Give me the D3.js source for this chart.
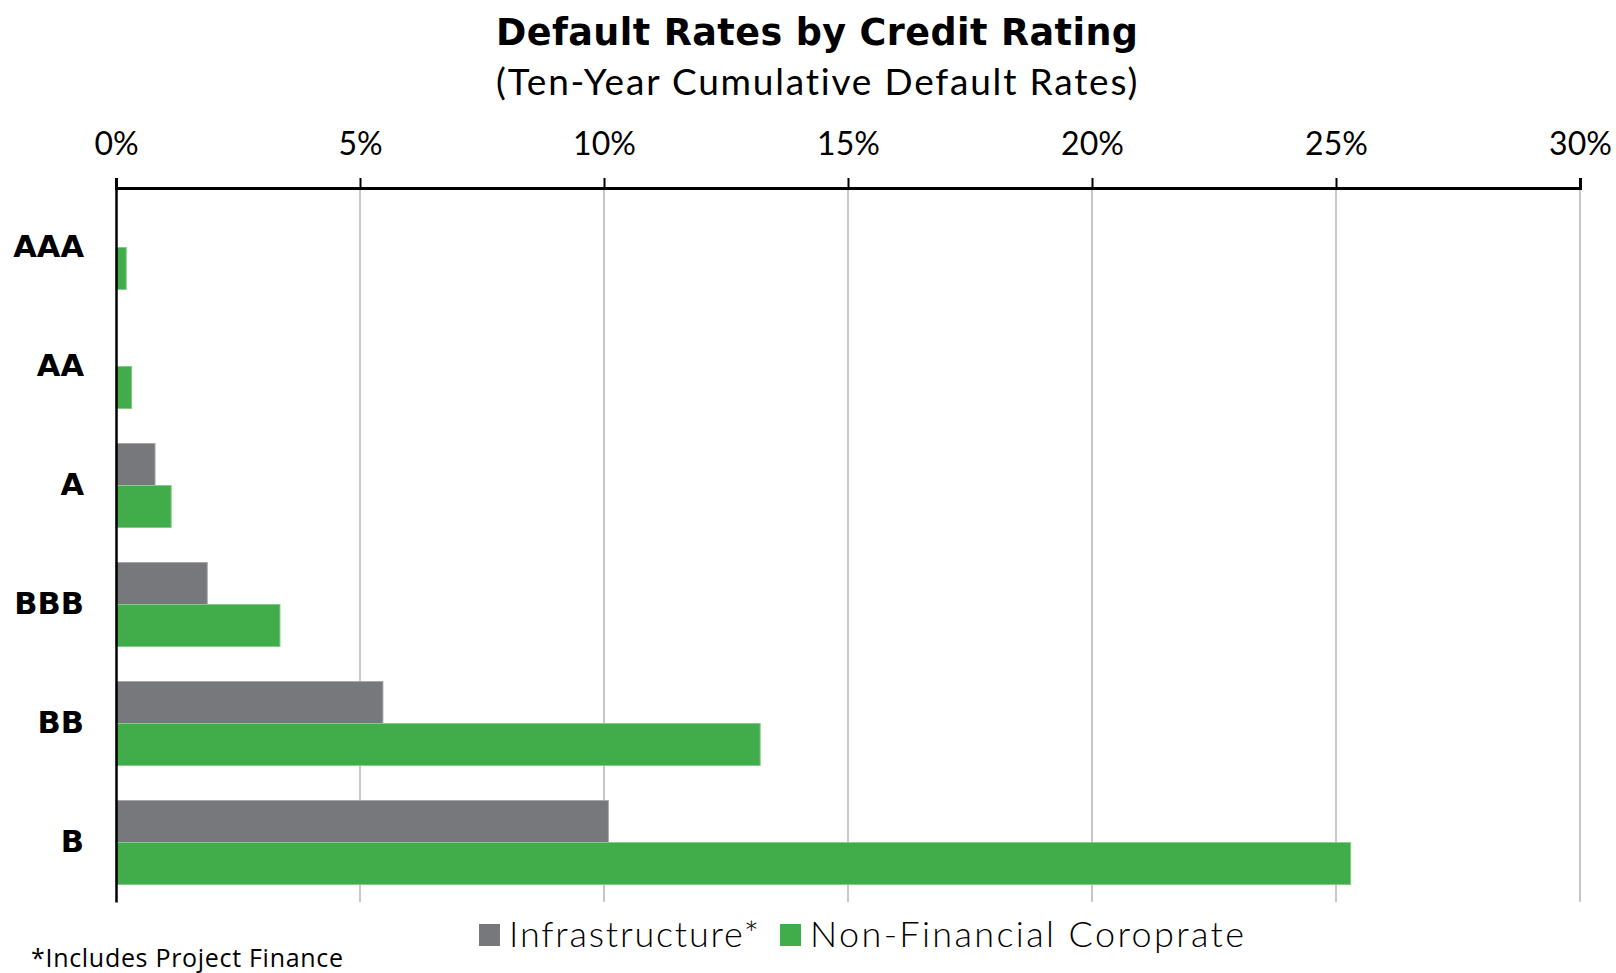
<!DOCTYPE html>
<html>
<head>
<meta charset="utf-8">
<script src="https://cdn.jsdelivr.net/npm/d3@7/dist/d3.min.js"></script>
<style>
  html, body { margin: 0; padding: 0; background: #ffffff; }
  svg { display: block; }
</style>
</head>
<body>
<svg id="chart" width="1616" height="973"></svg>
<script>
// Ten-year cumulative default rates (%) by rating grade
const ratings = ["AAA", "AA", "A", "BBB", "BB", "B"];
const seriesNames = ["Infrastructure*", "Non-Financial Coroprate"];
const infrastructure = [0, 0, 0.8, 1.87, 5.47, 10.09];
const nonFinancialCorporate = [0.21, 0.32, 1.13, 3.36, 13.2, 25.3];
const xTicks = [0, 5, 10, 15, 20, 25, 30];
const seriesColors = ["#77787b", "#41ad4a"];

const svg = d3.select("#chart");
const plot = { left: 116, right: 1580, top: 188, bottom: 902 };

// Spread a text run's letters so it spans the given width
function fitWidth(sel, width) {
  const node = sel.node();
  const n = sel.text().length;
  const w = node.getComputedTextLength();
  if (n > 1) sel.style("letter-spacing", ((width - w) / (n - 1)) + "px");
  return sel;
}

const x = d3.scaleLinear().domain([0, 30]).range([plot.left, plot.right]);
const y = d3.scaleBand().domain(ratings)
  .range([plot.top, plot.bottom])
  .paddingInner(0.294).paddingOuter(0.147);
const sub = d3.scaleBand().domain(seriesNames).range([0, y.bandwidth()]);

const rows = ratings.map((r, i) => ({
  rating: r,
  values: [
    { key: seriesNames[0], value: infrastructure[i], color: seriesColors[0] },
    { key: seriesNames[1], value: nonFinancialCorporate[i], color: seriesColors[1] }
  ]
}));

// Title block
const title = svg.append("text")
  .attr("x", 496).attr("y", 45)
  .style("font-family", "'DejaVu Sans', sans-serif")
  .style("font-weight", 700)
  .style("font-size", "36.5px")
  .attr("fill", "#000")
  .text("Default Rates by Credit Rating");
fitWidth(title, 642);

const subtitle = svg.append("text")
  .attr("x", 496).attr("y", 95)
  .style("font-family", "Lato, 'Noto Sans', sans-serif")
  .style("font-weight", 400)
  .style("font-size", "37px")
  .attr("fill", "#000")
  .text("(Ten-Year Cumulative Default Rates)");
fitWidth(subtitle, 642);

// Vertical gridlines
svg.append("g").selectAll("line")
  .data(xTicks.filter(t => t > 0))
  .join("line")
  .attr("x1", d => x(d)).attr("x2", d => x(d))
  .attr("y1", plot.top).attr("y2", plot.bottom)
  .attr("stroke", "#c8c8c8")
  .attr("stroke-width", 2);

// Bars
const groups = svg.append("g").selectAll("g")
  .data(rows)
  .join("g")
  .attr("transform", d => `translate(0,${y(d.rating)})`);

groups.selectAll("rect")
  .data(d => d.values.filter(v => v.value > 0))
  .join("rect")
  .attr("x", x(0))
  .attr("y", d => sub(d.key))
  .attr("width", d => x(d.value) - x(0))
  .attr("height", sub.bandwidth())
  .attr("fill", d => d.color)
  .attr("stroke", d => d3.interpolateRgb(d.color, "#ffffff")(0.35))
  .attr("stroke-width", 1);

// Top axis
const xAxis = d3.axisTop(x)
  .tickValues(xTicks)
  .tickFormat(d => d + "%")
  .tickSize(10)
  .tickPadding(23);

const gx = svg.append("g")
  .attr("transform", `translate(0,${plot.top})`)
  .call(xAxis);
gx.select(".domain").attr("stroke", "#000").attr("stroke-width", 3);
gx.selectAll(".tick line").attr("stroke", "#000").attr("stroke-width", 2);
gx.selectAll(".tick text")
  .attr("fill", "#000")
  .style("font-family", "Lato, 'Noto Sans', sans-serif")
  .style("font-weight", 400)
  .style("font-size", "32px");

// Left axis
const yAxis = d3.axisLeft(y).tickSize(0).tickPadding(32);
const gy = svg.append("g")
  .attr("transform", `translate(${plot.left},0)`)
  .call(yAxis);
gy.select(".domain").attr("stroke", "#000").attr("stroke-width", 2.5);
gy.selectAll(".tick text")
  .attr("fill", "#000")
  .style("font-family", "'DejaVu Sans', sans-serif")
  .style("font-weight", 700)
  .style("font-size", "30.5px");

// Legend
const legendItems = [
  { name: seriesNames[0], color: seriesColors[0], x: 479, textWidth: 250 },
  { name: seriesNames[1], color: seriesColors[1], x: 780, textWidth: 434 }
];
const lg = svg.append("g");
legendItems.forEach(it => {
  lg.append("rect")
    .attr("x", it.x).attr("y", 924)
    .attr("width", 21).attr("height", 22)
    .attr("fill", it.color);
  const t = lg.append("text")
    .attr("x", it.x + 30).attr("y", 947)
    .style("font-family", "Lato, 'Noto Sans', sans-serif")
    .style("font-weight", 300)
    .style("font-size", "36px")
    .attr("fill", "#000")
    .text(it.name);
  fitWidth(t, it.textWidth);
});

// Footnote
const foot = svg.append("text")
  .attr("x", 31).attr("y", 967)
  .style("font-family", "'Open Sans', sans-serif")
  .style("font-size", "25px")
  .attr("fill", "#000")
  .text("*Includes Project Finance");
fitWidth(foot, 312);
</script>
</body>
</html>
